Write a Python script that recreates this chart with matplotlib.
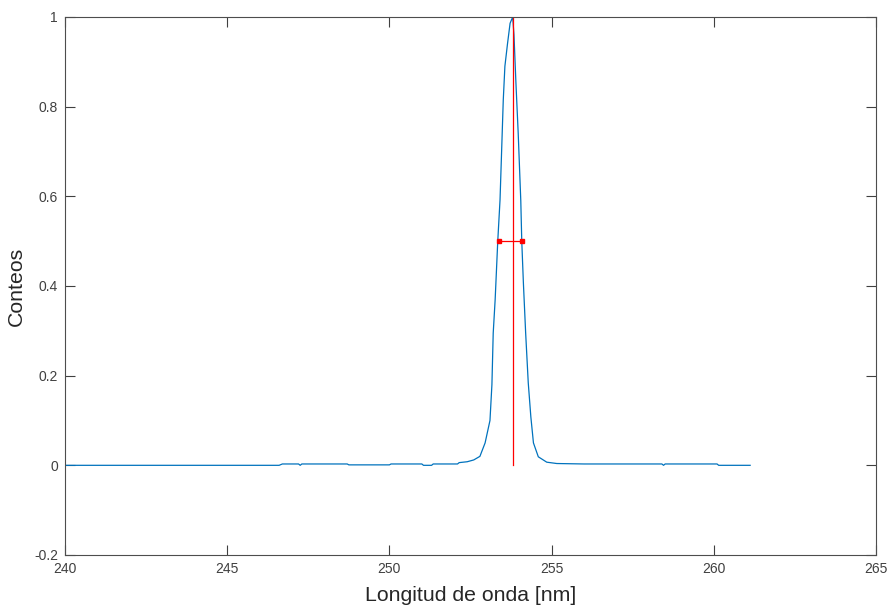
import matplotlib.pyplot as plt

# spectrum (nm, normalised counts)
wavelength = [240.0, 246.6, 246.7, 247.2, 247.25, 247.3, 248.7, 248.75, 250.0, 250.05,
              251.0, 251.05, 251.3, 251.35, 252.1, 252.15, 252.4, 252.6, 252.79, 252.95,
              253.10, 253.16, 253.20, 253.26, 253.34, 253.41, 253.46, 253.51, 253.56, 253.64,
              253.72, 253.80, 253.84, 253.90, 253.97, 254.05, 254.08, 254.13, 254.20,
              254.28, 254.36, 254.44, 254.59, 254.85, 255.16, 256.0, 258.4, 258.45,
              258.5, 260.1, 260.15, 261.12]
counts = [0.0, 0.0, 0.003, 0.003, 0.0, 0.003, 0.003, 0.001, 0.001, 0.003,
          0.003, 0.0, 0.0, 0.003, 0.003, 0.006, 0.008, 0.012, 0.02, 0.05,
          0.10, 0.18, 0.295, 0.37, 0.50, 0.592, 0.703, 0.815, 0.89, 0.94,
          0.986, 1.0, 0.96, 0.853, 0.741, 0.59, 0.50, 0.407, 0.295,
          0.184, 0.108, 0.05, 0.019, 0.007, 0.004, 0.003, 0.003, 0.0,
          0.003, 0.003, 0.0, 0.0]

peak_x = 253.82
peak_y = [0, 1]
fwhm_x = [253.39, 254.08]
fwhm_y = [0.5, 0.5]

xticks = [240, 245, 250, 255, 260, 265]
yticks = [-0.2, 0, 0.2, 0.4, 0.6, 0.8, 1]
ytick_labels = ["-0.2", "0", "0.2", "0.4", "0.6", "0.8", "1"]

plt.rcParams["font.family"] = ["Liberation Sans", "DejaVu Sans"]
axis_color = "#262626"

fig = plt.figure(figsize=(8.88, 6.07), dpi=100)
ax = fig.add_axes([0.0732, 0.0857, 0.9133, 0.8863])

ax.plot(wavelength, counts, color="#0072BD", lw=0.9)
ax.plot([peak_x, peak_x], peak_y, color="red", lw=0.9)
ax.plot(fwhm_x, fwhm_y, color="red", lw=0.9, marker="s", markersize=2.5)

ax.set_xlim(240, 265)
ax.set_ylim(-0.2, 1)
ax.set_xticks(xticks)
ax.set_yticks(yticks)
ax.set_yticklabels(ytick_labels)

ax.tick_params(direction="in", length=7, width=0.8, top=True, right=True,
               labelsize=10, colors="#404040", pad=5)
for side in ax.spines.values():
    side.set_color("#4d4d4d")
    side.set_linewidth(0.8)

ax.set_xlabel("Longitud de onda [nm]", fontsize=15.3, color=axis_color, labelpad=7)
ax.set_ylabel("Conteos", fontsize=15.3, color=axis_color, labelpad=6)

fig.savefig("out.png", dpi=100)
